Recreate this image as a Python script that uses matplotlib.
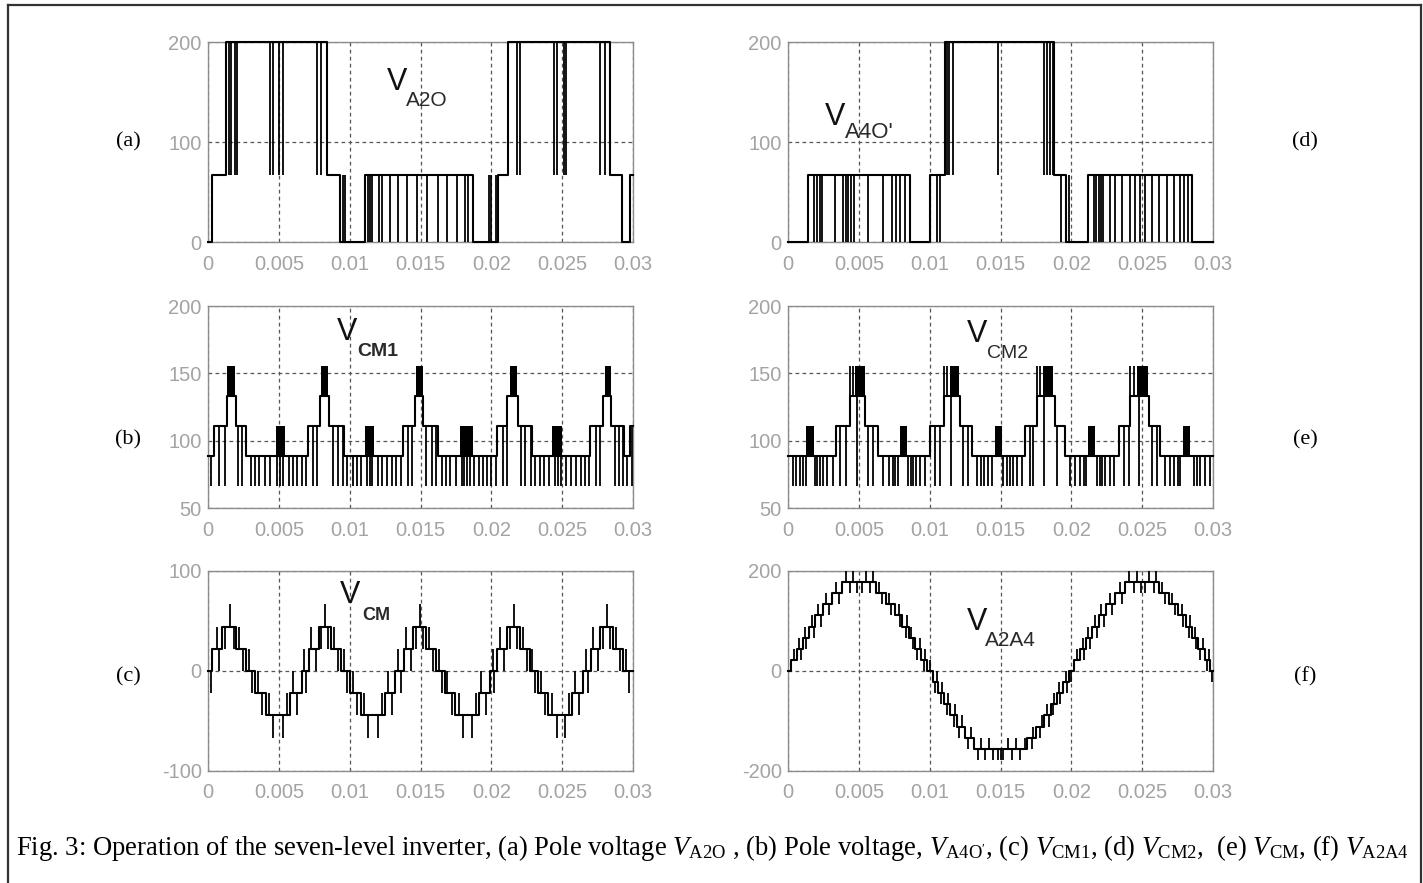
import numpy as np
import matplotlib
matplotlib.use('Agg')
import matplotlib.pyplot as plt
from matplotlib.lines import Line2D

W, H = 1423, 883
plt.rcParams['mathtext.fontset'] = 'custom'
plt.rcParams['mathtext.rm'] = 'Liberation Serif'
plt.rcParams['mathtext.it'] = 'Liberation Serif:italic'
plt.rcParams['font.family'] = ['Liberation Sans', 'DejaVu Sans']

# ---------------- common axis data ----------------
xticks = [0, 0.005, 0.01, 0.015, 0.02, 0.025, 0.03]
xtick_labels = ['0', '0.005', '0.01', '0.015', '0.02', '0.025', '0.03']

# ---------------- (a) V_A2O ----------------
a_step_t = [0, 0.0003, 0.00125, 0.00837, 0.0093, 0.0111, 0.01874, 0.0205, 0.0212, 0.0284, 0.0292, 0.0298]
a_step_v = [0, 66.7, 200, 66.7, 0, 66.7, 0, 66.7, 200, 66.7, 0, 66.7]
a_spike67_t = [0.00148, 0.0016, 0.0019, 0.00205, 0.0044, 0.0046, 0.00502, 0.00526, 0.0077, 0.0080,
               0.0095, 0.00966, 0.0198, 0.0200, 0.0203, 0.0218, 0.0220, 0.0244, 0.0246, 0.0251,
               0.0253, 0.0277, 0.0280]
a_spike0_t = [0.0113, 0.0114, 0.01155, 0.0121, 0.01225, 0.01285, 0.01343, 0.01402, 0.01473,
              0.01544, 0.01626, 0.01685, 0.01756, 0.01815, 0.01838]

# ---------------- (d) V_A4O' ----------------
d_step_t = [0, 0.0014, 0.0086, 0.0100, 0.0111, 0.0188, 0.0196, 0.0212, 0.0285]
d_step_v = [0, 66.7, 0, 66.7, 200, 66.7, 0, 66.7, 0]
d_spike0_t = [0.0018, 0.00205, 0.00224, 0.00243, 0.0033, 0.00389, 0.00408, 0.00424, 0.00443,
              0.00464, 0.00566, 0.00672, 0.00731, 0.00761, 0.0079, 0.00825, 0.0105, 0.0107,
              0.0193, 0.02157, 0.02175, 0.02192, 0.02208, 0.02227, 0.02275, 0.0231, 0.02357,
              0.02416, 0.0245, 0.02486, 0.0252, 0.02569, 0.02616, 0.02675, 0.02722, 0.0277,
              0.02798, 0.02821]
d_spike67_t = [0.0112, 0.01138, 0.01162, 0.01485, 0.01808, 0.01827, 0.0185, 0.01869, 0.0198]

# ---------------- (b) V_CM1 ----------------
b_step_t = [0, 0.0004, 0.00134, 0.00196, 0.00271, 0.00707, 0.0079, 0.00856, 0.0096, 0.01379,
            0.01461, 0.0152, 0.01626, 0.02039, 0.02114, 0.02185, 0.02286, 0.02699, 0.02788,
            0.02847, 0.02939, 0.02977]
b_step_v = [88.9, 111.1, 133.3, 111.1, 88.9, 111.1, 133.3, 111.1, 88.9, 111.1, 133.3, 111.1,
            88.9, 111.1, 133.3, 111.1, 88.9, 111.1, 133.3, 111.1, 88.9, 111.1]
b_spike67_t = [0.0002, 0.0008, 0.0012, 0.0021, 0.0024, 0.0030, 0.0033, 0.0036, 0.0040, 0.0044,
               0.0049, 0.0051, 0.0053, 0.0057, 0.0060, 0.0063, 0.0066, 0.0069, 0.0074, 0.0077,
               0.0088, 0.0092, 0.0095, 0.0098, 0.0102, 0.0105, 0.0108, 0.0112, 0.0114, 0.0116,
               0.0120, 0.0123, 0.0126, 0.0130, 0.0133, 0.0136, 0.0141, 0.0144,
               0.0154, 0.0158, 0.0161, 0.0165, 0.0168, 0.0171, 0.0175, 0.0179, 0.0181, 0.0183,
               0.0185, 0.0188, 0.0191, 0.0194, 0.0197, 0.0200, 0.0203, 0.0208, 0.0211,
               0.0221, 0.0224, 0.0228, 0.0231, 0.0234, 0.0237, 0.0241, 0.0245, 0.0247, 0.0249,
               0.0253, 0.0256, 0.0260, 0.0263, 0.0266, 0.0269, 0.0274, 0.0277,
               0.0287, 0.0290, 0.0293, 0.0296, 0.0299]
b_burst_t0 = [0.00134, 0.0048, 0.0080, 0.0111, 0.0147, 0.0178, 0.0213, 0.0243, 0.0280]
b_burst_t1 = [0.0019, 0.0054, 0.0085, 0.0117, 0.0152, 0.0187, 0.0218, 0.0250, 0.02845]
b_burst_lo = [133.3, 88.9, 133.3, 88.9, 133.3, 88.9, 133.3, 88.9, 133.3]
b_burst_hi = [155.6, 111.1, 155.6, 111.1, 155.6, 111.1, 155.6, 111.1, 155.6]

# ---------------- (e) V_CM2 ----------------
e_step_t = [0, 0.00342, 0.0044, 0.00542, 0.00636, 0.0100, 0.0110, 0.01214, 0.01296, 0.01673,
            0.01756, 0.01886, 0.01956, 0.02333, 0.02416, 0.02546, 0.02628]
e_step_v = [88.9, 111.1, 133.3, 111.1, 88.9, 111.1, 133.3, 111.1, 88.9, 111.1, 133.3, 111.1,
            88.9, 111.1, 133.3, 111.1, 88.9]
e_spike67_t = [0.00035, 0.00059, 0.00082, 0.00106, 0.00125, 0.00189, 0.00207, 0.00224, 0.00247,
               0.00276, 0.00318, 0.00365, 0.00408, 0.00488, 0.00566, 0.00601, 0.00672, 0.00714,
               0.00738, 0.00757, 0.00775, 0.00849, 0.00865, 0.00884, 0.00903, 0.00931, 0.00966,
               0.01037, 0.01072, 0.01148, 0.01237, 0.01273, 0.01332, 0.0136, 0.01386, 0.01414,
               0.01438, 0.0152, 0.01544, 0.01567, 0.01591, 0.01619, 0.0165, 0.01709, 0.01732,
               0.01808, 0.01902, 0.01992, 0.02027, 0.02062, 0.02086, 0.02105, 0.0218, 0.02199,
               0.02218, 0.02239, 0.02275, 0.02303, 0.02369, 0.02404, 0.02475, 0.02569, 0.02605,
               0.02663, 0.02699, 0.02722, 0.02751, 0.0277, 0.02864, 0.02887, 0.02911, 0.02946,
               0.02982]
e_spike156_t = [0.0044, 0.0046, 0.0110, 0.0112, 0.01756, 0.0178, 0.02416, 0.0244]
e_burst_t0 = [0.0013, 0.0047, 0.0079, 0.0114, 0.0146, 0.0180, 0.0212, 0.0246, 0.0279]
e_burst_t1 = [0.0018, 0.0054, 0.0084, 0.0121, 0.0151, 0.0187, 0.0217, 0.0254, 0.0284]
e_burst_lo = [88.9, 133.3, 88.9, 133.3, 88.9, 133.3, 88.9, 133.3, 88.9]
e_burst_hi = [111.1, 155.6, 111.1, 155.6, 111.1, 155.6, 111.1, 155.6, 111.1]

# ---------------- (c) V_CM ----------------
c_step_t = [0, 0.0003, 0.0010, 0.0020, 0.0027, 0.0033, 0.0041, 0.0058, 0.0066, 0.0071, 0.0078,
            0.0087, 0.0094, 0.0100, 0.0108, 0.0125, 0.0132, 0.0138, 0.0145, 0.0154, 0.0161,
            0.0167, 0.0174, 0.0191, 0.0199, 0.0204, 0.0211, 0.0220, 0.0227, 0.0233, 0.0240,
            0.0257, 0.0265, 0.0270, 0.0277, 0.0286, 0.0293]
c_step_v = [0, 22.2, 44.4, 22.2, 0, -22.2, -44.4, -22.2, 0, 22.2, 44.4, 22.2, 0, -22.2, -44.4,
            -22.2, 0, 22.2, 44.4, 22.2, 0, -22.2, -44.4, -22.2, 0, 22.2, 44.4, 22.2, 0, -22.2,
            -44.4, -22.2, 0, 22.2, 44.4, 22.2, 0]
c_spike_t = [0.0002, 0.0006, 0.0008, 0.0012, 0.00153, 0.0018, 0.0022, 0.0025, 0.0029, 0.0031,
             0.0035, 0.0038, 0.0043, 0.0046, 0.0053, 0.0056, 0.0060, 0.0063, 0.0068, 0.0069,
             0.0073, 0.0076, 0.0080, 0.00825, 0.0085, 0.0089, 0.0092, 0.0096, 0.0098, 0.0102,
             0.0105, 0.0110, 0.0113, 0.0120, 0.0123, 0.0127, 0.0130, 0.0134, 0.0136,
             0.0140, 0.0143, 0.0147, 0.01497, 0.0152, 0.0156, 0.0159, 0.0163, 0.0165, 0.0169,
             0.0172, 0.0177, 0.0180, 0.0186, 0.0189, 0.0193, 0.0196, 0.0201, 0.0202,
             0.0206, 0.0209, 0.0213, 0.02157, 0.0218, 0.0222, 0.0225, 0.0229, 0.0231, 0.0235,
             0.0238, 0.0243, 0.0246, 0.0252, 0.0255, 0.0259, 0.0262, 0.0267, 0.0268,
             0.0272, 0.0275, 0.0279, 0.02817, 0.0284, 0.0288, 0.0291, 0.0295, 0.0297]
c_spike_v = [-22.2, 44.4, 0, 22.2, 66.7, 22.2, 44.4, 0, 22.2, -22.2,
             0, -44.4, -22.2, -66.7, -66.7, -22.2, 0, -44.4, 22.2, -22.2,
             44.4, 0, 22.2, 66.7, 22.2, 44.4, 0, 22.2, -22.2, 0,
             -44.4, -22.2, -66.7, -66.7, -22.2, 0, -44.4, 22.2, -22.2,
             44.4, 0, 22.2, 66.7, 22.2, 44.4, 0, 22.2, -22.2, 0,
             -44.4, -22.2, -66.7, -66.7, -22.2, 0, -44.4, 22.2, -22.2,
             44.4, 0, 22.2, 66.7, 22.2, 44.4, 0, 22.2, -22.2, 0,
             -44.4, -22.2, -66.7, -66.7, -22.2, 0, -44.4, 22.2, -22.2,
             44.4, 0, 22.2, 66.7, 22.2, 44.4, 0, 22.2, -22.2]

# ---------------- (f) V_A2A4 ----------------
f_step_t = [0, 0.0002, 0.0006, 0.00103, 0.00147, 0.00194, 0.00246, 0.0031, 0.0038, 0.0062,
            0.0069, 0.00754, 0.00806, 0.00853, 0.00897, 0.0094, 0.0098, 0.0102, 0.0106, 0.01103,
            0.01147, 0.01194, 0.01246, 0.0131, 0.0169, 0.01754, 0.01806, 0.01853, 0.01897,
            0.0194, 0.0198, 0.0202, 0.0206, 0.02103, 0.02147, 0.02194, 0.02246, 0.0231, 0.0238,
            0.0262, 0.0269, 0.02754, 0.02806, 0.02853, 0.02897, 0.0294, 0.0298]
f_step_v = [0, 22.2, 44.4, 66.7, 88.9, 111.1, 133.3, 155.6, 177.8, 155.6, 133.3, 111.1, 88.9,
            66.7, 44.4, 22.2, 0, -22.2, -44.4, -66.7, -88.9, -111.1, -133.3, -155.6, -133.3,
            -111.1, -88.9, -66.7, -44.4, -22.2, 0, 22.2, 44.4, 66.7, 88.9, 111.1, 133.3, 155.6,
            177.8, 155.6, 133.3, 111.1, 88.9, 66.7, 44.4, 22.2, 0]
f_spike_t = [0.0004, 0.0008, 0.0009, 0.0012, 0.0013, 0.0017, 0.0018, 0.0021, 0.0023, 0.0027,
             0.0029, 0.0034, 0.0036,
             0.0041, 0.0044, 0.0046, 0.0049, 0.0052, 0.0055, 0.0058, 0.0060,
             0.0064, 0.0066, 0.0071, 0.0073, 0.0078, 0.0079, 0.0083, 0.0084, 0.0087, 0.0088,
             0.0091, 0.0093, 0.0096, 0.0097,
             0.0100, 0.0104, 0.0105, 0.0108, 0.0109, 0.0112, 0.0113, 0.0117, 0.0118, 0.0121,
             0.0123, 0.0127, 0.0129, 0.0134, 0.0136, 0.0139, 0.0142, 0.0145, 0.0148, 0.0150,
             0.0152, 0.0155, 0.0158, 0.0161, 0.0164, 0.0167, 0.0172, 0.0173, 0.0178, 0.0179,
             0.0183, 0.0184, 0.0187, 0.0188, 0.0191, 0.0192, 0.0196, 0.0197,
             0.0200, 0.0204, 0.0208, 0.0209, 0.0212, 0.0213, 0.0217, 0.0218, 0.0221, 0.0223,
             0.0227, 0.0229, 0.0234, 0.0236,
             0.0241, 0.0244, 0.0246, 0.0249, 0.0252, 0.0255, 0.0258, 0.0260,
             0.0264, 0.0266, 0.0271, 0.0273, 0.0278, 0.0279, 0.0283, 0.0284, 0.0287, 0.0288,
             0.0291, 0.0293, 0.0296, 0.0297, 0.02995]
f_spike_v = [44.4, 66.7, 22.2, 88.9, 44.4, 111.1, 66.7, 133.3, 88.9, 155.6,
             111.1, 177.8, 133.3,
             200, 155.6, 200, 155.6, 155.6, 200, 155.6, 200,
             177.8, 133.3, 155.6, 111.1, 133.3, 88.9, 66.7, 111.1, 88.9, 44.4,
             22.2, 66.7, 0, 44.4,
             22.2, -44.4, 0, -66.7, -22.2, -88.9, -44.4, -111.1, -66.7, -133.3,
             -88.9, -155.6, -111.1, -177.8, -133.3, -177.8, -133.3, -177.8, -177.8, -177.8,
             -177.8, -133.3, -177.8, -133.3, -177.8, -133.3, -155.6, -111.1, -133.3, -88.9,
             -66.7, -111.1, -88.9, -44.4, -22.2, -66.7, 0, -44.4,
             -22.2, 44.4, 66.7, 22.2, 88.9, 44.4, 111.1, 66.7, 133.3, 88.9,
             155.6, 111.1, 177.8, 133.3,
             200, 155.6, 200, 155.6, 155.6, 200, 155.6, 200,
             177.8, 133.3, 155.6, 111.1, 133.3, 88.9, 66.7, 111.1, 88.9, 44.4,
             22.2, 66.7, 0, 44.4, -22.2]

# ---------------- figure ----------------
fig = plt.figure(figsize=(W / 100, H / 100), dpi=100)


def px_axes(left, top, right, bottom):
    return fig.add_axes([left / W, 1 - bottom / H, (right - left) / W, (bottom - top) / H])


def draw(ax, step_t, step_v, spikes=(), bursts=None):
    st = np.asarray(step_t, float)
    sv = np.asarray(step_v, float)
    t = np.append(st, 0.03)
    v = np.append(sv, sv[-1])
    ax.step(t, v, where='post', color='k', lw=1.5, zorder=3, clip_on=False)
    for sp_t, sp_v in spikes:
        sp_t = np.asarray(sp_t, float)
        idx = np.searchsorted(st, sp_t, side='right') - 1
        base = sv[idx]
        ax.vlines(sp_t, base, sp_v, colors='k', lw=1.3, zorder=3, clip_on=False)
    if bursts is not None:
        for t0, t1, lo, hi in zip(*bursts):
            ax.fill_between([t0, t1], lo, hi, color='k', lw=0, zorder=3)


def style(ax, ylim, yticks):
    ax.set_xlim(0, 0.03)
    ax.set_ylim(*ylim)
    ax.set_xticks(xticks)
    ax.set_xticklabels(xtick_labels)
    ax.set_yticks(yticks)
    ax.set_yticklabels([str(y) for y in yticks])
    ax.tick_params(length=0, labelsize=14.5, labelcolor='#a3a3a3')
    ax.tick_params(axis='x', pad=9)
    ax.tick_params(axis='y', pad=4.5)
    for s in ax.spines.values():
        s.set_color('#8c8c8c')
        s.set_linewidth(1.0)
    ax.grid(True, color='#555555', lw=0.9, linestyle=(0, (3.0, 2.6)))
    ax.set_axisbelow(True)


ax_a = px_axes(208, 42, 633, 242)
ax_d = px_axes(788, 42, 1213, 242)
ax_b = px_axes(208, 306, 633, 508)
ax_e = px_axes(788, 306, 1213, 508)
ax_c = px_axes(208, 571, 633, 771)
ax_f = px_axes(788, 571, 1213, 771)

style(ax_a, (0, 200), [0, 100, 200])
style(ax_d, (0, 200), [0, 100, 200])
style(ax_b, (50, 200), [50, 100, 150, 200])
style(ax_e, (50, 200), [50, 100, 150, 200])
style(ax_c, (-100, 100), [-100, 0, 100])
style(ax_f, (-200, 200), [-200, 0, 200])

draw(ax_a, a_step_t, a_step_v, spikes=[(a_spike67_t, 66.7), (a_spike0_t, 0)])
draw(ax_d, d_step_t, d_step_v, spikes=[(d_spike0_t, 0), (d_spike67_t, 66.7)])
draw(ax_b, b_step_t, b_step_v, spikes=[(b_spike67_t, 66.7)],
     bursts=(b_burst_t0, b_burst_t1, b_burst_lo, b_burst_hi))
draw(ax_e, e_step_t, e_step_v, spikes=[(e_spike67_t, 66.7), (e_spike156_t, 155.6)],
     bursts=(e_burst_t0, e_burst_t1, e_burst_lo, e_burst_hi))
draw(ax_c, c_step_t, c_step_v, spikes=[(c_spike_t, c_spike_v)])
draw(ax_f, f_step_t, f_step_v, spikes=[(f_spike_t, f_spike_v)])

# in-panel labels: (V x, V baseline, sub x, sub baseline, subscript, weight, sub size)
labels = [
    (387, 90, 406, 106, 'A2O', 'normal', 15),
    (825, 125, 845, 138, "A4O'", 'normal', 16),
    (337, 340, 357, 356, 'CM1', 'bold', 14),
    (967, 342, 987, 358, 'CM2', 'normal', 14),
    (340, 603, 362, 620, 'CM', 'bold', 13),
    (967, 630, 985, 646, 'A2A4', 'normal', 15),
]
for vx, vy, sx, sy, sub, wt, ssz in labels:
    fig.text(vx / W, 1 - vy / H, 'V', fontsize=22, color='#111111', ha='left', va='baseline',
             family='Liberation Sans')
    fig.text(sx / W, 1 - sy / H, sub, fontsize=ssz, color='#2a2a2a', ha='left', va='baseline',
             family='Liberation Sans', weight=wt)

# panel letters
for txt, x, y in [('(a)', 128, 142), ('(b)', 128, 440), ('(c)', 128, 677),
                  ('(d)', 1305, 142), ('(e)', 1305, 440), ('(f)', 1305, 677)]:
    fig.text(x / W, 1 - y / H, txt, fontsize=16, family='Liberation Serif',
             ha='center', va='center', color='black')

caption = (r"Fig. 3: Operation of the seven-level inverter, (a) Pole voltage $V_{\mathrm{A2O}}$ , "
           r"(b) Pole voltage, $V_{\mathrm{A4O'}}$, (c) $V_{\mathrm{CM1}}$, (d) $V_{\mathrm{CM2}}$,  "
           r"(e) $V_{\mathrm{CM}}$, (f) $V_{\mathrm{A2A4}}$")
fig.text(16 / W, 1 - 855 / H, caption, fontsize=19.2, family='Liberation Serif',
         ha='left', va='baseline', color='black')

# outer frame (open at bottom)
for xs, ys in [([8, 8], [5, H]), ([8, 1421], [5, 5]), ([1421, 1421], [5, H])]:
    fig.add_artist(Line2D([x / W for x in xs], [1 - y / H for y in ys], color='#333333',
                          lw=1.6, transform=fig.transFigure))

fig.savefig('out.png', dpi=100)
